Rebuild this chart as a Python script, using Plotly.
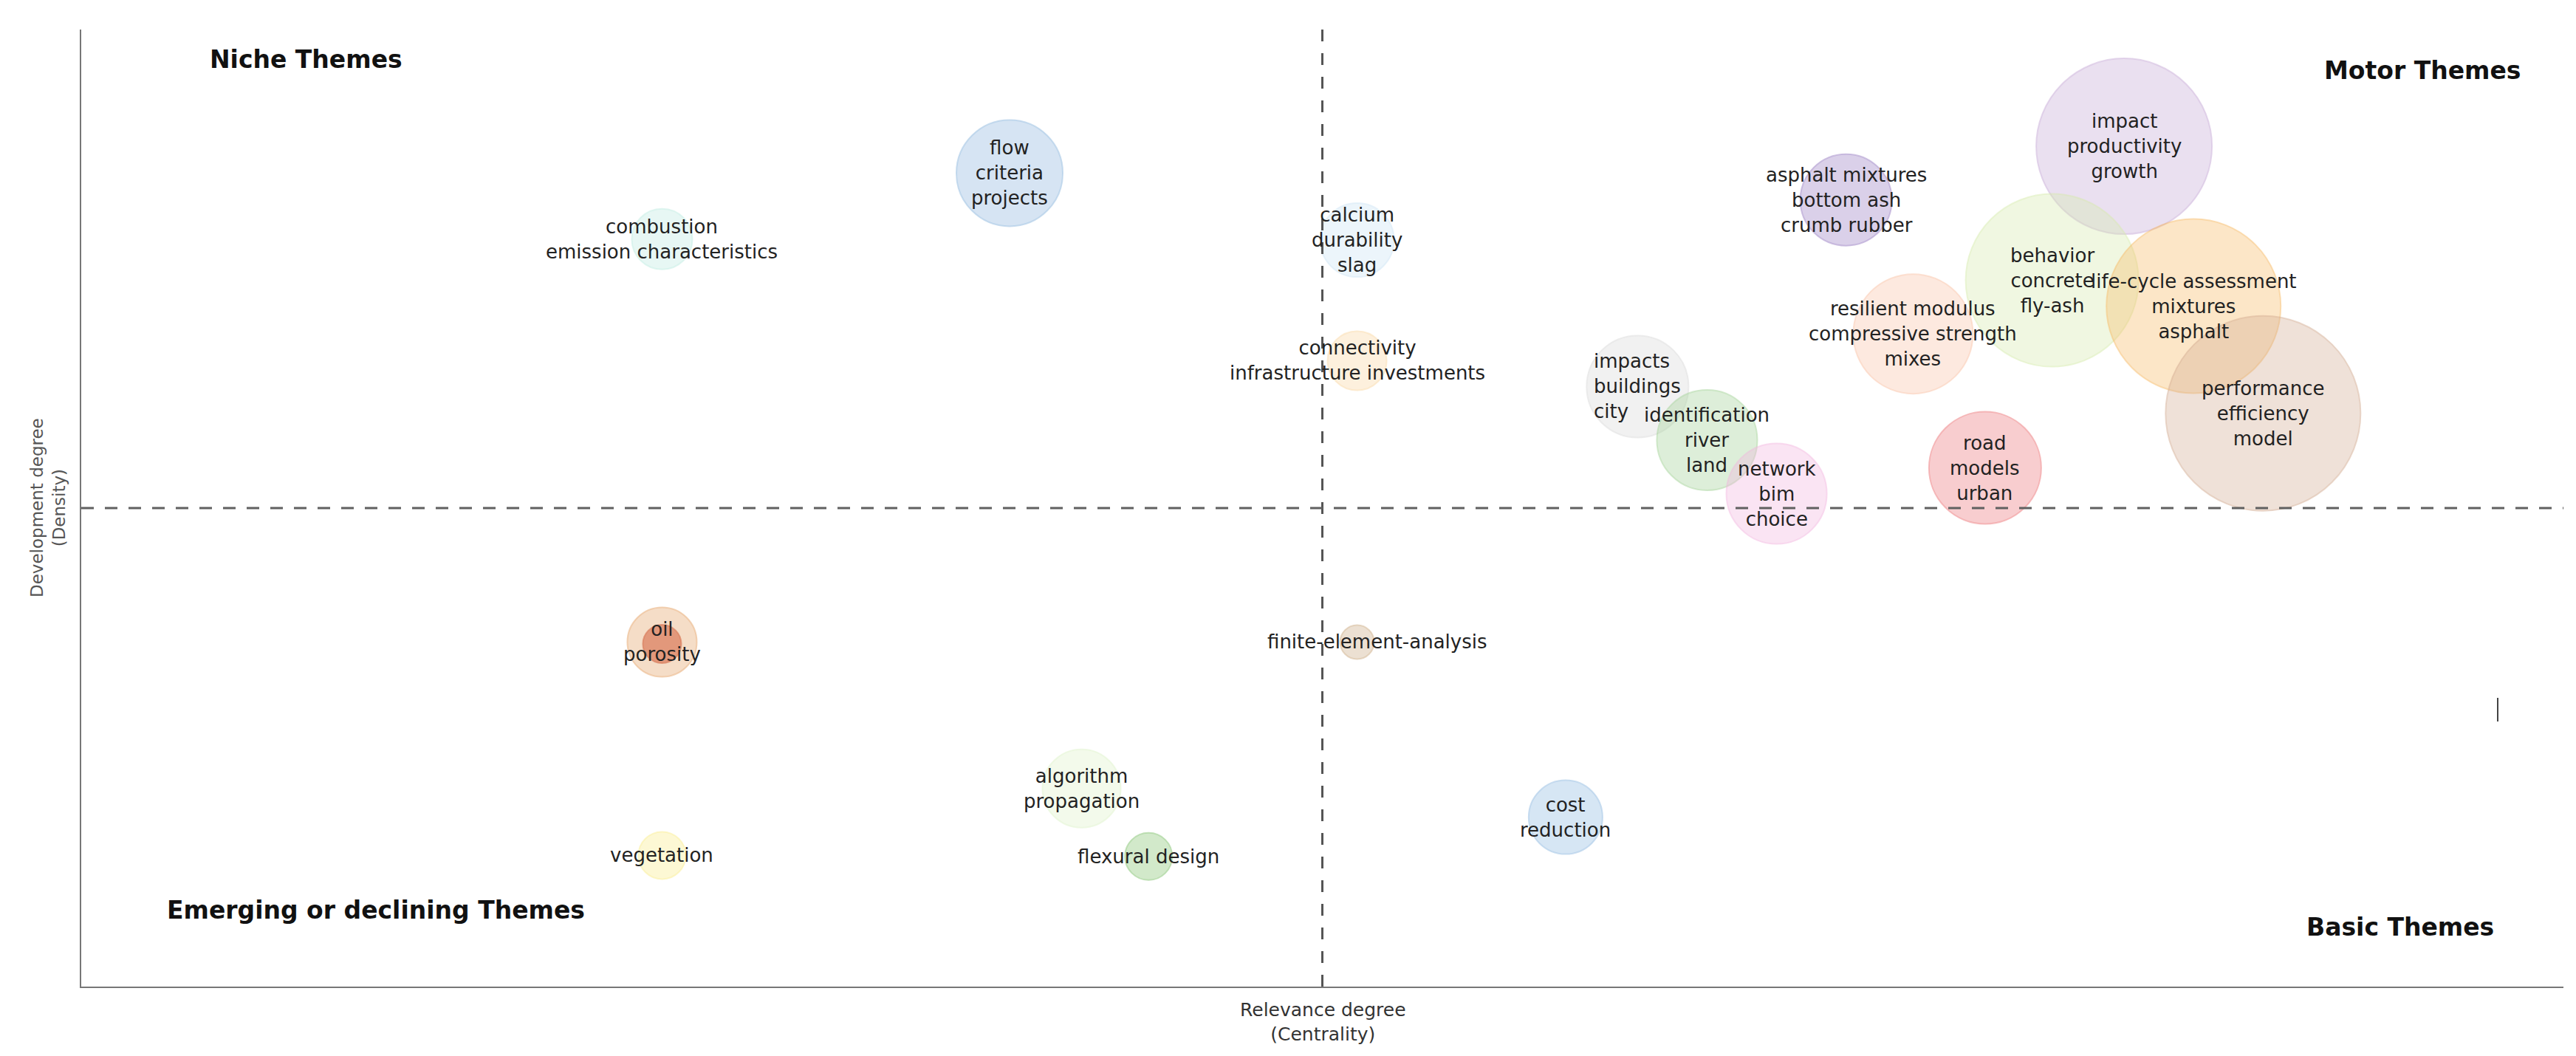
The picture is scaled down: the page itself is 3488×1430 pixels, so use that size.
import plotly.graph_objects as go

# ---------------- data ----------------
theme_labels = [
    "combustion<br>emission characteristics",
    "flow<br>criteria<br>projects",
    "calcium<br>durability<br>slag",
    "connectivity<br>infrastructure investments",
    "impacts<br>buildings<br>city",
    "identification<br>river<br>land",
    "network<br>bim<br>choice",
    "asphalt mixtures<br>bottom ash<br>crumb rubber",
    "impact<br>productivity<br>growth",
    "behavior<br>concrete<br>fly-ash",
    "life-cycle assessment<br>mixtures<br>asphalt",
    "resilient modulus<br>compressive strength<br>mixes",
    "performance<br>efficiency<br>model",
    "road<br>models<br>urban",
    "oil<br>porosity",
    "",
    "vegetation",
    "finite-element-analysis",
    "algorithm<br>propagation",
    "flexural design",
    "cost<br>reduction",
]
centrality = [23.4, 37.4, 51.4, 51.4, 62.7, 65.5, 68.3, 71.1, 82.3, 79.4, 85.1,
              73.8, 87.9, 76.7, 23.4, 23.4, 23.4, 51.4, 40.3, 43.0, 59.8]
density = [78.1, 85.0, 78.0, 65.4, 62.7, 57.1, 51.5, 82.2, 87.8, 73.8, 71.1,
           68.2, 59.9, 54.2, 36.0, 35.8, 13.7, 36.0, 20.7, 13.6, 17.7]
cluster_size = [82, 144, 100, 80, 138, 136, 136, 124, 238, 234, 236,
                162, 264, 152, 94, 52, 64, 46, 106, 64, 100]

centrality_median = 50.0
density_median = 50.0

quadrant_names = ["Niche Themes", "Motor Themes", "Emerging or declining Themes", "Basic Themes"]

# ---------------- styles ----------------
base_rgb = [
    (187, 235, 225), (139, 181, 221), (203, 227, 245), (251, 215, 161),
    (217, 217, 217), (159, 209, 147), (243, 179, 223), (151, 123, 193),
    (197, 167, 213), (213, 235, 171), (247, 185, 97), (251, 193, 165),
    (211, 171, 145), (237, 115, 119), (229, 159, 97), (206, 83, 46),
    (251, 237, 135), (203, 169, 127), (221, 243, 199), (127, 193, 107),
    (141, 185, 225),
]
fill_alpha = [0.5] * len(base_rgb)
fill_alpha[15] = 0.7
fill_colors = [f"rgba({r},{g},{b},{a})" for (r, g, b), a in zip(base_rgb, fill_alpha)]
line_colors = [f"rgba({r},{g},{b},0.65)" for (r, g, b) in base_rgb]
label_xshift = {17: 27}
label_align = {4: "left"}

W, H = 3488, 1430
ML, MR, MT, MB = 102, 25, 32, 102
PW, PH = W - ML - MR, H - MT - MB


def px_x(p):
    return (p - ML) / PW


def px_y(p):
    return (H - MB - p) / PH


fig = go.Figure()
fig.add_trace(go.Scatter(
    x=centrality, y=density, mode="markers",
    marker=dict(size=cluster_size, sizemode="diameter", color=fill_colors,
                line=dict(color=line_colors, width=2)),
    hoverinfo="skip", showlegend=False,
))

font_label = dict(family="DejaVu Sans", size=26, color="#222222")
annotations = []
for i, (lab, cx, cy) in enumerate(zip(theme_labels, centrality, density)):
    if not lab:
        continue
    annotations.append(dict(x=cx, y=cy, xref="x", yref="y", text=lab, showarrow=False,
                            font=font_label, xshift=label_xshift.get(i, 0),
                            align=label_align.get(i, "center"),
                            xanchor="center", yanchor="middle"))

quad_pos = [(406, 73), (3272, 87), (501, 1224), (3242, 1247)]
for name, (qx, qy) in zip(quadrant_names, quad_pos):
    annotations.append(dict(x=px_x(qx), y=px_y(qy), xref="paper", yref="paper",
                            text=f"<b>{name}</b>", showarrow=False,
                            font=dict(family="DejaVu Sans", size=33, color="#111111"),
                            xanchor="center", yanchor="middle"))

annotations.append(dict(x=px_x(1784), y=px_y(1376), xref="paper", yref="paper",
                        text="Relevance degree<br>(Centrality)", showarrow=False,
                        font=dict(family="DejaVu Sans", size=25, color="#333333"),
                        xanchor="center", yanchor="middle"))
annotations.append(dict(x=px_x(57), y=px_y(680), xref="paper", yref="paper",
                        text="Development degree<br>(Density)", showarrow=False, textangle=-90,
                        font=dict(family="DejaVu Sans", size=23, color="#555555"),
                        xanchor="center", yanchor="middle"))

shapes = [
    dict(type="line", xref="x", yref="paper", x0=centrality_median, x1=centrality_median,
         y0=0, y1=1, line=dict(color="#555555", width=3, dash="16px,16px")),
    dict(type="line", xref="paper", yref="y", x0=0, x1=1, y0=density_median, y1=density_median,
         line=dict(color="#606060", width=3, dash="17px,15px")),
    dict(type="line", xref="paper", yref="paper", x0=px_x(3374), x1=px_x(3374),
         y0=px_y(969), y1=px_y(937), line=dict(color="#444444", width=2)),
]

axis_common = dict(range=[0, 100], showgrid=False, zeroline=False, showticklabels=False,
                   ticks="", showline=True, linecolor="#777777", linewidth=2, fixedrange=True)

fig.update_layout(
    width=W, height=H,
    margin=dict(l=ML, r=MR, t=MT, b=MB),
    paper_bgcolor="white", plot_bgcolor="white",
    xaxis=axis_common, yaxis=axis_common,
    annotations=annotations, shapes=shapes,
    showlegend=False,
)

fig.write_html("out.html")
